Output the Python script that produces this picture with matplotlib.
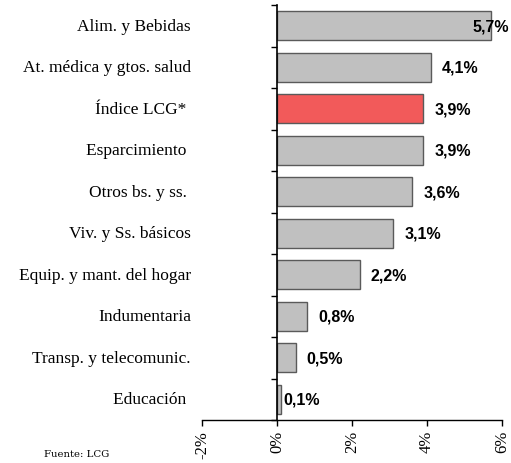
import matplotlib.pyplot as plt
from matplotlib.ticker import FuncFormatter

# Variación por rubro
rubros = [
    "Alim. y Bebidas",
    "At. médica y gtos. salud",
    "Índice LCG* ",
    "Esparcimiento ",
    "Otros bs. y ss. ",
    "Viv. y Ss. básicos",
    "Equip. y mant. del hogar",
    "Indumentaria",
    "Transp. y telecomunic.",
    "Educación ",
]
variacion = [5.7, 4.1, 3.9, 3.9, 3.6, 3.1, 2.2, 0.8, 0.5, 0.1]
etiquetas = ["5,7%", "4,1%", "3,9%", "3,9%", "3,6%", "3,1%", "2,2%", "0,8%", "0,5%", "0,1%"]
x_ticks = [-2, 0, 2, 4, 6]

GRIS = "#c0c0c0"
ROJO = "#f25a5a"
BORDE = "#5a5a5a"
SERIF = "Liberation Serif"

colores = [ROJO if r.startswith("Índice") else GRIS for r in rubros]
pos = list(range(len(rubros)))

fig = plt.figure(figsize=(5.11, 4.64), dpi=100)
ax = fig.add_axes([202 / 511, 1 - 421 / 464, 300 / 511, 415 / 464])

ax.barh(pos, variacion, height=0.7, color=colores, edgecolor=BORDE, linewidth=1.0, zorder=2)

ax.set_xlim(-2, 6)
ax.set_ylim(len(rubros) - 0.5, -0.5)

# eje vertical en el 0%
for s in ["top", "right"]:
    ax.spines[s].set_visible(False)
ax.spines["left"].set_position(("data", 0))
ax.spines["left"].set_zorder(3)
ax.spines["left"].set_linewidth(1.2)
ax.spines["bottom"].set_linewidth(1.0)

ax.set_yticks([p - 0.5 for p in pos] + [len(rubros) - 0.5])
ax.set_yticklabels([])
ax.tick_params(axis="y", direction="out", length=4, width=1.0)

ax.set_xticks(x_ticks)
ax.xaxis.set_major_formatter(FuncFormatter(lambda v, _: f"{v:.0f}%"))
ax.tick_params(axis="x", direction="out", length=4, width=1.0, pad=3)
for lbl in ax.get_xticklabels():
    lbl.set_rotation(90)
    lbl.set_fontfamily(SERIF)
    lbl.set_fontsize(12)

# nombres de rubros a la izquierda
for p, r in zip(pos, rubros):
    ax.text(-11 / 300, p, r, transform=ax.get_yaxis_transform(),
            ha="right", va="center", fontsize=12.5, family=SERIF)

# etiquetas de valor
for p, v, t in zip(pos, variacion, etiquetas):
    if v >= 5.5:
        ax.annotate(t, (6, p), xytext=(5, 0), textcoords="offset points",
                    ha="right", va="center", fontsize=11.5, fontweight="bold",
                    family="Liberation Sans", annotation_clip=False, zorder=4)
    else:
        off = 2 if v < 0.2 else 8
        ax.annotate(t, (v, p), xytext=(off, 0), textcoords="offset points",
                    ha="left", va="center", fontsize=11.5, fontweight="bold",
                    family="Liberation Sans", zorder=4)

fig.text(44 / 511, 1 - 455 / 464, "Fuente: LCG", ha="left", va="center",
         fontsize=7.3, family="DejaVu Serif")

fig.savefig("out.png", dpi=100)
